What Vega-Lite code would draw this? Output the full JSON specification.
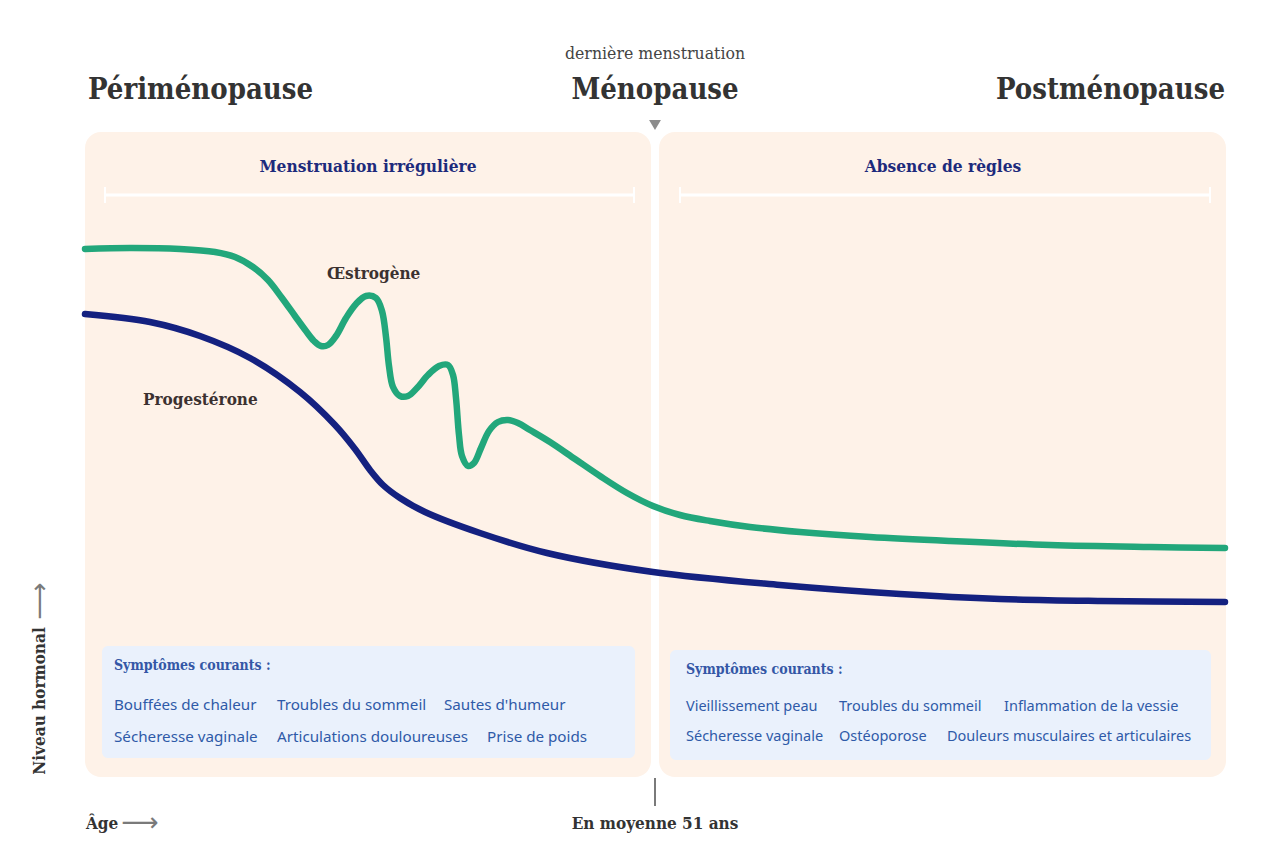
{
  "$schema": "https://vega.github.io/schema/vega-lite/v6.json",
  "width": 1280,
  "height": 867,
  "autosize": {"type": "none"},
  "padding": 0,
  "background": "#ffffff",
  "config": {"view": {"stroke": null}},
  "datasets": {
    "panels": [
      {"x": 85, "x2": 651, "y": 132, "y2": 777},
      {"x": 659, "x2": 1226, "y": 132, "y2": 777}
    ],
    "boxes": [
      {"x": 102, "x2": 635, "y": 646, "y2": 758},
      {"x": 670, "x2": 1211, "y": 650, "y2": 760}
    ],
    "brackets": [
      {"x": 105, "x2": 634, "y": 195},
      {"x": 680, "x2": 1210, "y": 195}
    ],
    "bracketEnds": [
      {"x": 105, "y": 187, "y2": 203},
      {"x": 634, "y": 187, "y2": 203},
      {"x": 680, "y": 187, "y2": 203},
      {"x": 1210, "y": 187, "y2": 203}
    ],
    "curves": [
      {"hormone": "Œstrogène", "x": 85, "y": 249},
      {"hormone": "Œstrogène", "x": 130, "y": 248},
      {"hormone": "Œstrogène", "x": 180, "y": 249},
      {"hormone": "Œstrogène", "x": 215, "y": 252},
      {"hormone": "Œstrogène", "x": 235, "y": 257},
      {"hormone": "Œstrogène", "x": 253, "y": 267},
      {"hormone": "Œstrogène", "x": 268, "y": 280},
      {"hormone": "Œstrogène", "x": 282, "y": 298},
      {"hormone": "Œstrogène", "x": 295, "y": 316},
      {"hormone": "Œstrogène", "x": 306, "y": 331},
      {"hormone": "Œstrogène", "x": 314, "y": 341},
      {"hormone": "Œstrogène", "x": 321, "y": 346},
      {"hormone": "Œstrogène", "x": 328, "y": 345},
      {"hormone": "Œstrogène", "x": 336, "y": 336},
      {"hormone": "Œstrogène", "x": 346, "y": 318},
      {"hormone": "Œstrogène", "x": 356, "y": 304},
      {"hormone": "Œstrogène", "x": 366, "y": 296},
      {"hormone": "Œstrogène", "x": 376, "y": 298},
      {"hormone": "Œstrogène", "x": 382, "y": 311},
      {"hormone": "Œstrogène", "x": 386, "y": 337},
      {"hormone": "Œstrogène", "x": 389, "y": 366},
      {"hormone": "Œstrogène", "x": 393, "y": 387},
      {"hormone": "Œstrogène", "x": 400, "y": 396},
      {"hormone": "Œstrogène", "x": 408, "y": 396},
      {"hormone": "Œstrogène", "x": 417, "y": 388},
      {"hormone": "Œstrogène", "x": 428, "y": 375},
      {"hormone": "Œstrogène", "x": 439, "y": 366},
      {"hormone": "Œstrogène", "x": 448, "y": 365},
      {"hormone": "Œstrogène", "x": 453, "y": 375},
      {"hormone": "Œstrogène", "x": 456, "y": 398},
      {"hormone": "Œstrogène", "x": 459, "y": 435},
      {"hormone": "Œstrogène", "x": 462, "y": 456},
      {"hormone": "Œstrogène", "x": 468, "y": 466},
      {"hormone": "Œstrogène", "x": 474, "y": 463},
      {"hormone": "Œstrogène", "x": 481, "y": 448},
      {"hormone": "Œstrogène", "x": 489, "y": 431},
      {"hormone": "Œstrogène", "x": 498, "y": 422},
      {"hormone": "Œstrogène", "x": 508, "y": 420},
      {"hormone": "Œstrogène", "x": 518, "y": 423},
      {"hormone": "Œstrogène", "x": 530, "y": 430},
      {"hormone": "Œstrogène", "x": 550, "y": 442},
      {"hormone": "Œstrogène", "x": 575, "y": 459},
      {"hormone": "Œstrogène", "x": 600, "y": 476},
      {"hormone": "Œstrogène", "x": 627, "y": 493},
      {"hormone": "Œstrogène", "x": 653, "y": 506},
      {"hormone": "Œstrogène", "x": 680, "y": 515},
      {"hormone": "Œstrogène", "x": 710, "y": 521},
      {"hormone": "Œstrogène", "x": 750, "y": 527},
      {"hormone": "Œstrogène", "x": 800, "y": 532},
      {"hormone": "Œstrogène", "x": 870, "y": 537},
      {"hormone": "Œstrogène", "x": 950, "y": 541},
      {"hormone": "Œstrogène", "x": 1050, "y": 545},
      {"hormone": "Œstrogène", "x": 1150, "y": 547},
      {"hormone": "Œstrogène", "x": 1225, "y": 548},
      {"hormone": "Progestérone", "x": 85, "y": 314},
      {"hormone": "Progestérone", "x": 150, "y": 322},
      {"hormone": "Progestérone", "x": 200, "y": 336},
      {"hormone": "Progestérone", "x": 250, "y": 358},
      {"hormone": "Progestérone", "x": 300, "y": 392},
      {"hormone": "Progestérone", "x": 335, "y": 425},
      {"hormone": "Progestérone", "x": 355, "y": 449},
      {"hormone": "Progestérone", "x": 370, "y": 470},
      {"hormone": "Progestérone", "x": 383, "y": 485},
      {"hormone": "Progestérone", "x": 400, "y": 498},
      {"hormone": "Progestérone", "x": 425, "y": 512},
      {"hormone": "Progestérone", "x": 480, "y": 533},
      {"hormone": "Progestérone", "x": 547, "y": 553},
      {"hormone": "Progestérone", "x": 653, "y": 572},
      {"hormone": "Progestérone", "x": 780, "y": 585},
      {"hormone": "Progestérone", "x": 900, "y": 594},
      {"hormone": "Progestérone", "x": 1000, "y": 599},
      {"hormone": "Progestérone", "x": 1100, "y": 601},
      {"hormone": "Progestérone", "x": 1225, "y": 602}
    ]
  },
  "encoding": {
    "x": {"field": "x", "type": "quantitative", "scale": {"domain": [0, 1280], "nice": false, "zero": false}, "axis": null},
    "y": {"field": "y", "type": "quantitative", "scale": {"domain": [0, 867], "nice": false, "zero": false, "reverse": true}, "axis": null}
  },
  "layer": [
    {
      "data": {"name": "panels"},
      "mark": {"type": "rect", "fill": "#FEF2E8", "cornerRadius": 16},
      "encoding": {"x2": {"field": "x2"}, "y2": {"field": "y2"}}
    },
    {
      "data": {"name": "boxes"},
      "mark": {"type": "rect", "fill": "#EAF1FC", "cornerRadius": 6},
      "encoding": {"x2": {"field": "x2"}, "y2": {"field": "y2"}}
    },
    {
      "data": {"name": "brackets"},
      "mark": {"type": "rule", "stroke": "#ffffff", "strokeWidth": 3},
      "encoding": {"x2": {"field": "x2"}}
    },
    {
      "data": {"name": "bracketEnds"},
      "mark": {"type": "rule", "stroke": "#ffffff", "strokeWidth": 2},
      "encoding": {"y2": {"field": "y2"}}
    },
    {
      "data": {"values": [{"x": 655, "y": 778, "y2": 806}]},
      "mark": {"type": "rule", "stroke": "#7a7a7a", "strokeWidth": 2},
      "encoding": {"y2": {"field": "y2"}}
    },
    {
      "data": {"values": [{"x": 655, "y": 125}]},
      "mark": {"type": "point", "shape": "triangle-down", "filled": true, "fill": "#8c8c8c", "opacity": 1, "size": 140}
    },
    {
      "data": {"name": "curves"},
      "mark": {"type": "line", "interpolate": "catmull-rom", "strokeWidth": 6.5, "strokeCap": "round", "strokeJoin": "round"},
      "encoding": {
        "detail": {"field": "hormone"},
        "color": {"field": "hormone", "type": "nominal", "scale": {"domain": ["Œstrogène", "Progestérone"], "range": ["#22A77B", "#142180"]}, "legend": null}
      }
    },
    {
      "data": {"values": [{"x": 88, "y": 90, "text": "Périménopause"}]},
      "mark": {"type": "text", "font": "DejaVu Serif Condensed, Liberation Serif, serif", "fontWeight": "bold", "fontSize": 29, "fill": "#333333", "baseline": "middle", "align": "left"},
      "encoding": {"text": {"field": "text"}}
    },
    {
      "data": {"values": [{"x": 655, "y": 90, "text": "Ménopause"}]},
      "mark": {"type": "text", "font": "DejaVu Serif Condensed, Liberation Serif, serif", "fontWeight": "bold", "fontSize": 29, "fill": "#333333", "baseline": "middle", "align": "center"},
      "encoding": {"text": {"field": "text"}}
    },
    {
      "data": {"values": [{"x": 1225, "y": 90, "text": "Postménopause"}]},
      "mark": {"type": "text", "font": "DejaVu Serif Condensed, Liberation Serif, serif", "fontWeight": "bold", "fontSize": 29, "fill": "#333333", "baseline": "middle", "align": "right"},
      "encoding": {"text": {"field": "text"}}
    },
    {
      "data": {"values": [{"x": 655, "y": 54, "text": "dernière menstruation"}]},
      "mark": {"type": "text", "font": "DejaVu Serif Condensed, Liberation Serif, serif", "fontSize": 17.5, "fill": "#444444", "baseline": "middle", "align": "center"},
      "encoding": {"text": {"field": "text"}}
    },
    {
      "data": {"values": [
        {"x": 368, "y": 167, "text": "Menstruation irrégulière"},
        {"x": 943, "y": 167, "text": "Absence de règles"}
      ]},
      "mark": {"type": "text", "font": "DejaVu Serif Condensed, Liberation Serif, serif", "fontWeight": "bold", "fontSize": 17.2, "fill": "#1D2A7C", "baseline": "middle", "align": "center"},
      "encoding": {"text": {"field": "text"}}
    },
    {
      "data": {"values": [
        {"x": 327, "y": 274, "text": "Œstrogène"},
        {"x": 143, "y": 400, "text": "Progestérone"}
      ]},
      "mark": {"type": "text", "font": "DejaVu Serif Condensed, Liberation Serif, serif", "fontWeight": "bold", "fontSize": 17, "fill": "#3B3130", "baseline": "middle", "align": "left"},
      "encoding": {"text": {"field": "text"}}
    },
    {
      "data": {"values": [
        {"x": 114, "y": 666, "text": "Symptômes courants :"},
        {"x": 686, "y": 670, "text": "Symptômes courants :"}
      ]},
      "mark": {"type": "text", "font": "DejaVu Serif Condensed, Liberation Serif, serif", "fontWeight": "bold", "fontSize": 14, "fill": "#3457A6", "baseline": "middle", "align": "left"},
      "encoding": {"text": {"field": "text"}}
    },
    {
      "data": {"values": [
        {"x": 114, "y": 705, "text": "Bouffées de chaleur"},
        {"x": 277, "y": 705, "text": "Troubles du sommeil"},
        {"x": 444, "y": 705, "text": "Sautes d'humeur"},
        {"x": 114, "y": 737, "text": "Sécheresse vaginale"},
        {"x": 277, "y": 737, "text": "Articulations douloureuses"},
        {"x": 487, "y": 737, "text": "Prise de poids"}
      ]},
      "mark": {"type": "text", "font": "Noto Sans", "fontSize": 15.2, "fill": "#2F5AA8", "baseline": "middle", "align": "left"},
      "encoding": {"text": {"field": "text"}}
    },
    {
      "data": {"values": [
        {"x": 686, "y": 707, "text": "Vieillissement peau"},
        {"x": 839, "y": 707, "text": "Troubles du sommeil"},
        {"x": 1004, "y": 707, "text": "Inflammation de la vessie"},
        {"x": 686, "y": 737, "text": "Sécheresse vaginale"},
        {"x": 839, "y": 737, "text": "Ostéoporose"},
        {"x": 947, "y": 737, "text": "Douleurs musculaires et articulaires"}
      ]},
      "mark": {"type": "text", "font": "Noto Sans", "fontSize": 14.5, "fill": "#2F5AA8", "baseline": "middle", "align": "left"},
      "encoding": {"text": {"field": "text"}}
    },
    {
      "data": {"values": [{"x": 86, "y": 824, "text": "Âge"}]},
      "mark": {"type": "text", "font": "DejaVu Serif Condensed, Liberation Serif, serif", "fontWeight": "bold", "fontSize": 17, "fill": "#333333", "baseline": "middle", "align": "left"},
      "encoding": {"text": {"field": "text"}}
    },
    {
      "data": {"values": [{"x": 655, "y": 824, "text": "En moyenne 51 ans"}]},
      "mark": {"type": "text", "font": "DejaVu Serif Condensed, Liberation Serif, serif", "fontWeight": "bold", "fontSize": 17, "fill": "#333333", "baseline": "middle", "align": "center"},
      "encoding": {"text": {"field": "text"}}
    },
    {
      "data": {"values": [{"x": 40, "y": 701, "text": "Niveau hormonal"}]},
      "mark": {"type": "text", "font": "DejaVu Serif Condensed, Liberation Serif, serif", "fontWeight": "bold", "fontSize": 17, "fill": "#333333", "baseline": "middle", "align": "center", "angle": 270},
      "encoding": {"text": {"field": "text"}}
    },
    {
      "data": {"values": [{"x": 140, "y": 823, "text": "⟶"}]},
      "mark": {"type": "text", "font": "DejaVu Sans", "fontSize": 26, "fill": "#7a7a7a", "baseline": "middle", "align": "center"},
      "encoding": {"text": {"field": "text"}}
    },
    {
      "data": {"values": [{"x": 40, "y": 601, "text": "⟶"}]},
      "mark": {"type": "text", "font": "DejaVu Sans", "fontSize": 26, "fill": "#7a7a7a", "baseline": "middle", "align": "center", "angle": 270},
      "encoding": {"text": {"field": "text"}}
    }
  ]
}
